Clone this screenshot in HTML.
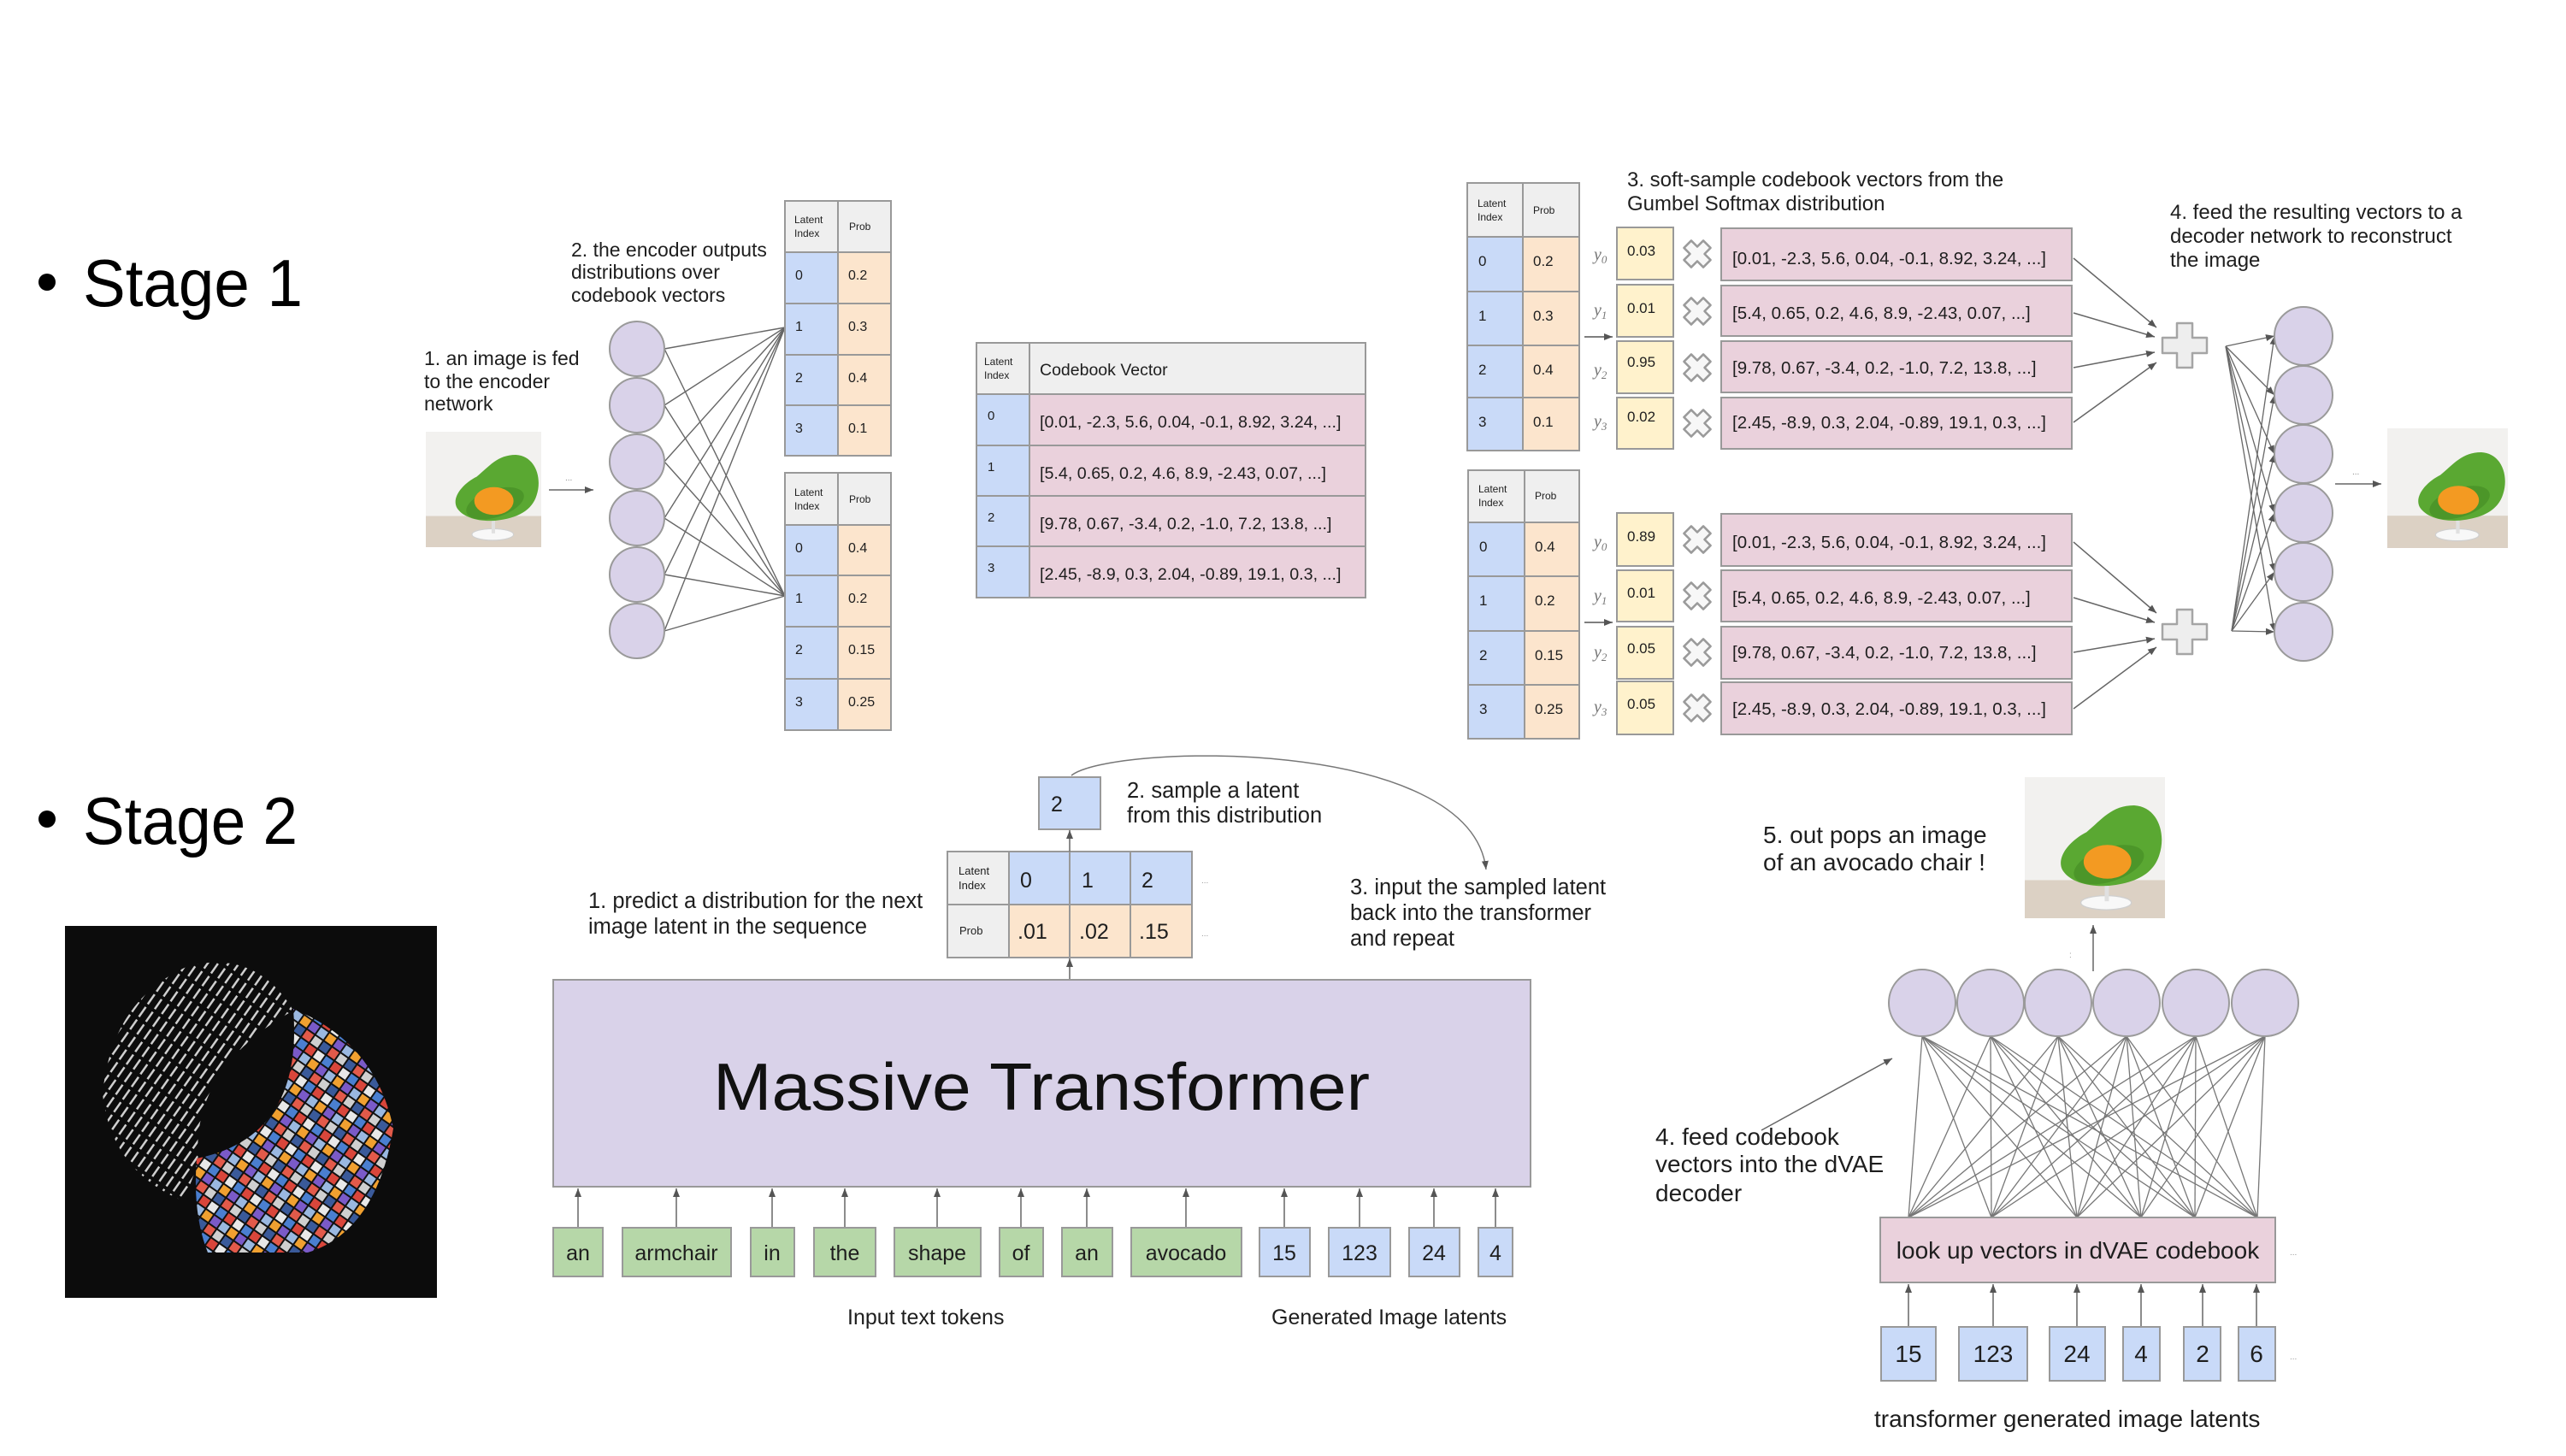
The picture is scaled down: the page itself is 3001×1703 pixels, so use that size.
<!DOCTYPE html>
<html><head><meta charset="utf-8">
<style>
html,body{margin:0;padding:0;background:#fff;}
svg{display:block;}
text{font-family:"Liberation Sans",Arial,sans-serif;fill:#1e1e1e;}
.ser{font-family:"Liberation Serif",serif;font-style:italic;fill:#777;}
</style></head><body>
<svg width="3001" height="1703" viewBox="0 0 3001 1703" xmlns="http://www.w3.org/2000/svg">
<defs>
<marker id="a" viewBox="0 0 10 10" refX="10" refY="5" markerWidth="13" markerHeight="13" markerUnits="userSpaceOnUse" orient="auto"><path d="M0,1 L10,5 L0,9 z" fill="#555"/></marker>
<marker id="s" viewBox="0 0 10 10" refX="10" refY="5" markerWidth="10" markerHeight="10" markerUnits="userSpaceOnUse" orient="auto"><path d="M0,1 L10,5 L0,9 z" fill="#555"/></marker>
<symbol id="chair" viewBox="0 0 100 100" preserveAspectRatio="none">
<rect width="100" height="100" fill="#f2f1ef"/>
<rect y="73" width="100" height="27" fill="#dcd1c4"/>
<ellipse cx="58" cy="89" rx="18" ry="5" fill="#f8f8f8" stroke="#cfcfcf" stroke-width="0.8"/>
<rect x="57" y="74" width="3" height="14" fill="#e0e0e0"/>
<path d="M27,66 C22,57 32,45 44,39 C55,30 62,20 78,20 C95,21 101,40 96,55 C92,68 80,75 60,77 C45,78 32,74 27,66 Z" fill="#5aa832"/>
<ellipse cx="60" cy="62" rx="26" ry="12" transform="rotate(-18 60 62)" fill="#4c9629"/>
<ellipse cx="59" cy="60" rx="17" ry="12" fill="#f39a22"/>
</symbol>
<pattern id="tiles" width="36" height="36" patternUnits="userSpaceOnUse" patternTransform="rotate(35)">
<rect width="36" height="36" fill="#111"/>
<rect x="1" y="1" width="10" height="10" fill="#e8e8e8"/>
<rect x="13" y="1" width="10" height="10" fill="#4a7fd0"/>
<rect x="25" y="1" width="10" height="10" fill="#d9463b"/>
<rect x="1" y="13" width="10" height="10" fill="#f0a030"/>
<rect x="13" y="13" width="10" height="10" fill="#7a5ac8"/>
<rect x="25" y="13" width="10" height="10" fill="#9ab8e0"/>
<rect x="1" y="25" width="10" height="10" fill="#3a5a9a"/>
<rect x="13" y="25" width="10" height="10" fill="#e25a4a"/>
<rect x="25" y="25" width="10" height="10" fill="#cfcfcf"/>
</pattern>
<pattern id="txt" width="18" height="10" patternUnits="userSpaceOnUse" patternTransform="rotate(-55)">
<rect width="18" height="10" fill="#0c0c0c"/>
<rect x="1" y="4" width="14" height="2.5" fill="#cfcfcf"/>
</pattern>
</defs>

<!-- ===== Stage labels ===== -->
<circle cx="55" cy="330" r="10" fill="#000"/>
<text x="97" y="358" font-size="78" textLength="257" lengthAdjust="spacingAndGlyphs" style="fill:#000">Stage 1</text>
<circle cx="55" cy="958" r="10" fill="#000"/>
<text x="97" y="987" font-size="78" textLength="251" lengthAdjust="spacingAndGlyphs" style="fill:#000">Stage 2</text>

<!-- ===== Stage 1 encoder ===== -->
<text font-size="23"><tspan x="496" y="427">1. an image is fed</tspan><tspan x="496" y="454">to the encoder</tspan><tspan x="496" y="480">network</tspan></text>
<text font-size="23"><tspan x="668" y="300">2. the encoder outputs</tspan><tspan x="668" y="326">distributions over</tspan><tspan x="668" y="353">codebook vectors</tspan></text>
<use href="#chair" x="498" y="505" width="135" height="135"/>
<line x1="642" y1="573" x2="694" y2="573" stroke="#666" stroke-width="1.5" marker-end="url(#s)"/>
<text x="661" y="562" font-size="10" style="fill:#888">...</text>

<g stroke="#666" stroke-width="1.4">
<line x1="777" y1="408" x2="918" y2="383"/><line x1="777" y1="408" x2="918" y2="697"/>
<line x1="777" y1="474" x2="918" y2="383"/><line x1="777" y1="474" x2="918" y2="697"/>
<line x1="777" y1="540" x2="918" y2="383"/><line x1="777" y1="540" x2="918" y2="697"/>
<line x1="777" y1="606" x2="918" y2="383"/><line x1="777" y1="606" x2="918" y2="697"/>
<line x1="777" y1="672" x2="918" y2="383"/><line x1="777" y1="672" x2="918" y2="697"/>
<line x1="777" y1="738" x2="918" y2="383"/><line x1="777" y1="738" x2="918" y2="697"/>
</g>
<g fill="#d9d2e9" stroke="#9a9a9a" stroke-width="2">
<circle cx="745" cy="408" r="32"/><circle cx="745" cy="474" r="32"/><circle cx="745" cy="540" r="32"/>
<circle cx="745" cy="606" r="32"/><circle cx="745" cy="672" r="32"/><circle cx="745" cy="738" r="32"/>
</g>

<!-- Table T1 -->
<g stroke="#999" stroke-width="2">
<rect x="918" y="235" width="62" height="60" fill="#efefef"/><rect x="980" y="235" width="62" height="60" fill="#efefef"/>
<rect x="918" y="295" width="62" height="60" fill="#c9daf8"/><rect x="980" y="295" width="62" height="60" fill="#fce5cd"/>
<rect x="918" y="355" width="62" height="60" fill="#c9daf8"/><rect x="980" y="355" width="62" height="60" fill="#fce5cd"/>
<rect x="918" y="415" width="62" height="59" fill="#c9daf8"/><rect x="980" y="415" width="62" height="59" fill="#fce5cd"/>
<rect x="918" y="474" width="62" height="59" fill="#c9daf8"/><rect x="980" y="474" width="62" height="59" fill="#fce5cd"/>
</g>
<text font-size="12"><tspan x="929" y="261">Latent</tspan><tspan x="929" y="277">Index</tspan></text>
<text x="993" y="269" font-size="12">Prob</text>
<g font-size="16">
<text x="930" y="327">0</text><text x="992" y="327">0.2</text>
<text x="930" y="387">1</text><text x="992" y="387">0.3</text>
<text x="930" y="447">2</text><text x="992" y="447">0.4</text>
<text x="930" y="506">3</text><text x="992" y="506">0.1</text>
</g>
<!-- Table T2 -->
<g stroke="#999" stroke-width="2">
<rect x="918" y="553" width="62" height="61" fill="#efefef"/><rect x="980" y="553" width="62" height="61" fill="#efefef"/>
<rect x="918" y="614" width="62" height="59" fill="#c9daf8"/><rect x="980" y="614" width="62" height="59" fill="#fce5cd"/>
<rect x="918" y="673" width="62" height="60" fill="#c9daf8"/><rect x="980" y="673" width="62" height="60" fill="#fce5cd"/>
<rect x="918" y="733" width="62" height="61" fill="#c9daf8"/><rect x="980" y="733" width="62" height="61" fill="#fce5cd"/>
<rect x="918" y="794" width="62" height="60" fill="#c9daf8"/><rect x="980" y="794" width="62" height="60" fill="#fce5cd"/>
</g>
<text font-size="12"><tspan x="929" y="580">Latent</tspan><tspan x="929" y="596">Index</tspan></text>
<text x="993" y="588" font-size="12">Prob</text>
<g font-size="16">
<text x="930" y="646">0</text><text x="992" y="646">0.4</text>
<text x="930" y="705">1</text><text x="992" y="705">0.2</text>
<text x="930" y="765">2</text><text x="992" y="765">0.15</text>
<text x="930" y="826">3</text><text x="992" y="826">0.25</text>
</g>

<!-- Codebook table -->
<g stroke="#999" stroke-width="2">
<rect x="1142" y="401" width="62" height="60" fill="#efefef"/><rect x="1204" y="401" width="393" height="60" fill="#efefef"/>
<rect x="1142" y="461" width="62" height="60" fill="#c9daf8"/><rect x="1204" y="461" width="393" height="60" fill="#ead1dc"/>
<rect x="1142" y="521" width="62" height="59" fill="#c9daf8"/><rect x="1204" y="521" width="393" height="59" fill="#ead1dc"/>
<rect x="1142" y="580" width="62" height="59" fill="#c9daf8"/><rect x="1204" y="580" width="393" height="59" fill="#ead1dc"/>
<rect x="1142" y="639" width="62" height="60" fill="#c9daf8"/><rect x="1204" y="639" width="393" height="60" fill="#ead1dc"/>
</g>
<text font-size="12"><tspan x="1151" y="427">Latent</tspan><tspan x="1151" y="443">Index</tspan></text>
<text x="1216" y="439" font-size="19.5">Codebook Vector</text>
<g font-size="15">
<text x="1155" y="491">0</text><text x="1155" y="551">1</text><text x="1155" y="610">2</text><text x="1155" y="669">3</text>
</g>
<g font-size="19.7">
<text x="1216" y="500">[0.01, -2.3, 5.6, 0.04, -0.1, 8.92, 3.24, ...]</text>
<text x="1216" y="560">[5.4, 0.65, 0.2, 4.6, 8.9, -2.43, 0.07, ...]</text>
<text x="1216" y="619">[9.78, 0.67, -3.4, 0.2, -1.0, 7.2, 13.8, ...]</text>
<text x="1216" y="678">[2.45, -8.9, 0.3, 2.04, -0.89, 19.1, 0.3, ...]</text>
</g>

<!-- Gumbel table A -->
<g stroke="#999" stroke-width="2">
<rect x="1716" y="214" width="65" height="63" fill="#efefef"/><rect x="1781" y="214" width="66" height="63" fill="#efefef"/>
<rect x="1716" y="277" width="65" height="64" fill="#c9daf8"/><rect x="1781" y="277" width="66" height="64" fill="#fce5cd"/>
<rect x="1716" y="341" width="65" height="63" fill="#c9daf8"/><rect x="1781" y="341" width="66" height="63" fill="#fce5cd"/>
<rect x="1716" y="404" width="65" height="61" fill="#c9daf8"/><rect x="1781" y="404" width="66" height="61" fill="#fce5cd"/>
<rect x="1716" y="465" width="65" height="62" fill="#c9daf8"/><rect x="1781" y="465" width="66" height="62" fill="#fce5cd"/>
</g>
<text font-size="12"><tspan x="1728" y="242">Latent</tspan><tspan x="1728" y="258">Index</tspan></text>
<text x="1793" y="250" font-size="12">Prob</text>
<g font-size="17">
<text x="1729" y="311">0</text><text x="1793" y="311">0.2</text>
<text x="1729" y="375">1</text><text x="1793" y="375">0.3</text>
<text x="1729" y="438">2</text><text x="1793" y="438">0.4</text>
<text x="1729" y="499">3</text><text x="1793" y="499">0.1</text>
</g>
<!-- Gumbel table B -->
<g stroke="#999" stroke-width="2">
<rect x="1717" y="550" width="66" height="61" fill="#efefef"/><rect x="1783" y="550" width="64" height="61" fill="#efefef"/>
<rect x="1717" y="611" width="66" height="63" fill="#c9daf8"/><rect x="1783" y="611" width="64" height="63" fill="#fce5cd"/>
<rect x="1717" y="674" width="66" height="64" fill="#c9daf8"/><rect x="1783" y="674" width="64" height="64" fill="#fce5cd"/>
<rect x="1717" y="738" width="66" height="63" fill="#c9daf8"/><rect x="1783" y="738" width="64" height="63" fill="#fce5cd"/>
<rect x="1717" y="801" width="66" height="63" fill="#c9daf8"/><rect x="1783" y="801" width="64" height="63" fill="#fce5cd"/>
</g>
<text font-size="12"><tspan x="1729" y="576">Latent</tspan><tspan x="1729" y="592">Index</tspan></text>
<text x="1795" y="584" font-size="12">Prob</text>
<g font-size="17">
<text x="1730" y="645">0</text><text x="1795" y="645">0.4</text>
<text x="1730" y="708">1</text><text x="1795" y="708">0.2</text>
<text x="1730" y="772">2</text><text x="1795" y="772">0.15</text>
<text x="1730" y="835">3</text><text x="1795" y="835">0.25</text>
</g>

<line x1="1853" y1="394" x2="1886" y2="394" stroke="#555" stroke-width="1.5" marker-end="url(#s)"/>
<line x1="1853" y1="728" x2="1886" y2="728" stroke="#555" stroke-width="1.5" marker-end="url(#s)"/>

<!-- y labels -->
<g font-size="20">
<text class="ser" x="1864" y="304">y<tspan font-size="13" dy="4">0</tspan></text>
<text class="ser" x="1864" y="369">y<tspan font-size="13" dy="4">1</tspan></text>
<text class="ser" x="1864" y="439">y<tspan font-size="13" dy="4">2</tspan></text>
<text class="ser" x="1864" y="499">y<tspan font-size="13" dy="4">3</tspan></text>
<text class="ser" x="1864" y="640">y<tspan font-size="13" dy="4">0</tspan></text>
<text class="ser" x="1864" y="703">y<tspan font-size="13" dy="4">1</tspan></text>
<text class="ser" x="1864" y="769">y<tspan font-size="13" dy="4">2</tspan></text>
<text class="ser" x="1864" y="833">y<tspan font-size="13" dy="4">3</tspan></text>
</g>

<!-- Yellow boxes -->
<g stroke="#999" stroke-width="2" fill="#fff2cc">
<rect x="1891" y="266" width="66" height="61"/><rect x="1891" y="333" width="66" height="61"/>
<rect x="1891" y="399" width="66" height="61"/><rect x="1891" y="465" width="66" height="60"/>
<rect x="1891" y="600" width="66" height="62"/><rect x="1891" y="667" width="66" height="60"/>
<rect x="1891" y="733" width="66" height="61"/><rect x="1891" y="797" width="66" height="62"/>
</g>
<g font-size="17">
<text x="1903" y="299">0.03</text><text x="1903" y="366">0.01</text><text x="1903" y="429">0.95</text><text x="1903" y="493">0.02</text>
<text x="1903" y="633">0.89</text><text x="1903" y="699">0.01</text><text x="1903" y="764">0.05</text><text x="1903" y="829">0.05</text>
</g>

<!-- multiply icons -->
<g fill="#f7f7f7" stroke="#9a9a9a" stroke-width="2.5" stroke-linejoin="round">
<polygon transform="translate(1985 297) rotate(45)" points="-6,-16 6,-16 6,-6 16,-6 16,6 6,6 6,16 -6,16 -6,6 -16,6 -16,-6 -6,-6"/>
<polygon transform="translate(1985 364) rotate(45)" points="-6,-16 6,-16 6,-6 16,-6 16,6 6,6 6,16 -6,16 -6,6 -16,6 -16,-6 -6,-6"/>
<polygon transform="translate(1985 430) rotate(45)" points="-6,-16 6,-16 6,-6 16,-6 16,6 6,6 6,16 -6,16 -6,6 -16,6 -16,-6 -6,-6"/>
<polygon transform="translate(1985 495) rotate(45)" points="-6,-16 6,-16 6,-6 16,-6 16,6 6,6 6,16 -6,16 -6,6 -16,6 -16,-6 -6,-6"/>
<polygon transform="translate(1985 631) rotate(45)" points="-6,-16 6,-16 6,-6 16,-6 16,6 6,6 6,16 -6,16 -6,6 -16,6 -16,-6 -6,-6"/>
<polygon transform="translate(1985 697) rotate(45)" points="-6,-16 6,-16 6,-6 16,-6 16,6 6,6 6,16 -6,16 -6,6 -16,6 -16,-6 -6,-6"/>
<polygon transform="translate(1985 763) rotate(45)" points="-6,-16 6,-16 6,-6 16,-6 16,6 6,6 6,16 -6,16 -6,6 -16,6 -16,-6 -6,-6"/>
<polygon transform="translate(1985 828) rotate(45)" points="-6,-16 6,-16 6,-6 16,-6 16,6 6,6 6,16 -6,16 -6,6 -16,6 -16,-6 -6,-6"/>
</g>

<!-- Pink vector boxes -->
<g stroke="#999" stroke-width="2" fill="#ead1dc">
<rect x="2013" y="267" width="410" height="61"/><rect x="2013" y="334" width="410" height="59"/>
<rect x="2013" y="399" width="410" height="60"/><rect x="2013" y="465" width="410" height="60"/>
<rect x="2013" y="601" width="410" height="61"/><rect x="2013" y="667" width="410" height="60"/>
<rect x="2013" y="733" width="410" height="61"/><rect x="2013" y="798" width="410" height="61"/>
</g>
<g font-size="20.5">
<text x="2026" y="309">[0.01, -2.3, 5.6, 0.04, -0.1, 8.92, 3.24, ...]</text>
<text x="2026" y="373">[5.4, 0.65, 0.2, 4.6, 8.9, -2.43, 0.07, ...]</text>
<text x="2026" y="437">[9.78, 0.67, -3.4, 0.2, -1.0, 7.2, 13.8, ...]</text>
<text x="2026" y="501">[2.45, -8.9, 0.3, 2.04, -0.89, 19.1, 0.3, ...]</text>
<text x="2026" y="641">[0.01, -2.3, 5.6, 0.04, -0.1, 8.92, 3.24, ...]</text>
<text x="2026" y="706">[5.4, 0.65, 0.2, 4.6, 8.9, -2.43, 0.07, ...]</text>
<text x="2026" y="770">[9.78, 0.67, -3.4, 0.2, -1.0, 7.2, 13.8, ...]</text>
<text x="2026" y="836">[2.45, -8.9, 0.3, 2.04, -0.89, 19.1, 0.3, ...]</text>
</g>
<text font-size="24"><tspan x="1903" y="218">3. soft-sample codebook vectors from the</tspan><tspan x="1903" y="246">Gumbel Softmax distribution</tspan></text>

<!-- arrows into plus -->
<g stroke="#666" stroke-width="1.5" marker-end="url(#s)">
<line x1="2425" y1="302" x2="2522" y2="383"/>
<line x1="2425" y1="366" x2="2520" y2="394"/>
<line x1="2425" y1="430" x2="2520" y2="412"/>
<line x1="2425" y1="494" x2="2522" y2="424"/>
<line x1="2425" y1="634" x2="2522" y2="717"/>
<line x1="2425" y1="699" x2="2520" y2="728"/>
<line x1="2425" y1="763" x2="2520" y2="747"/>
<line x1="2425" y1="829" x2="2522" y2="757"/>
</g>
<g fill="#eeeeee" stroke="#a5a5a5" stroke-width="2.5" stroke-linejoin="round">
<polygon transform="translate(2555 404)" points="-9,-26 9,-26 9,-9 26,-9 26,9 9,9 9,26 -9,26 -9,9 -26,9 -26,-9 -9,-9"/>
<polygon transform="translate(2555 739)" points="-9,-26 9,-26 9,-9 26,-9 26,9 9,9 9,26 -9,26 -9,9 -26,9 -26,-9 -9,-9"/>
</g>

<!-- decoder fan stage 1 -->
<g stroke="#666" stroke-width="1.3" marker-end="url(#s)">
<line x1="2603" y1="405" x2="2660" y2="393"/><line x1="2603" y1="405" x2="2660" y2="462"/>
<line x1="2603" y1="405" x2="2660" y2="531"/><line x1="2603" y1="405" x2="2660" y2="600"/>
<line x1="2603" y1="405" x2="2660" y2="669"/><line x1="2603" y1="405" x2="2660" y2="739"/>
<line x1="2610" y1="738" x2="2660" y2="393"/><line x1="2610" y1="738" x2="2660" y2="462"/>
<line x1="2610" y1="738" x2="2660" y2="531"/><line x1="2610" y1="738" x2="2660" y2="600"/>
<line x1="2610" y1="738" x2="2660" y2="669"/><line x1="2610" y1="738" x2="2660" y2="739"/>
</g>
<g fill="#d9d2e9" stroke="#9a9a9a" stroke-width="2">
<circle cx="2694" cy="393" r="34"/><circle cx="2694" cy="462" r="34"/><circle cx="2694" cy="531" r="34"/>
<circle cx="2694" cy="600" r="34"/><circle cx="2694" cy="669" r="34"/><circle cx="2694" cy="739" r="34"/>
</g>
<text font-size="24"><tspan x="2538" y="256">4. feed the resulting vectors to a</tspan><tspan x="2538" y="284">decoder network to reconstruct</tspan><tspan x="2538" y="312">the image</tspan></text>
<line x1="2731" y1="566" x2="2785" y2="566" stroke="#666" stroke-width="1.5" marker-end="url(#s)"/>
<text x="2751" y="555" font-size="10" style="fill:#888">...</text>
<use href="#chair" x="2792" y="501" width="141" height="140"/>

<!-- ===== Stage 2 ===== -->
<rect x="76" y="1083" width="435" height="435" fill="#0c0c0c"/>
<path d="M343,1182 Q300,1110 220,1130 Q130,1170 120,1280 Q130,1370 215,1405 L232,1360 Q222,1250 343,1182 Z" fill="url(#txt)"/>
<path d="M343,1180 Q440,1220 460,1320 Q440,1440 360,1465 L243,1465 Q225,1420 230,1355 Q355,1330 343,1180 Z" fill="url(#tiles)"/>

<text font-size="25.5"><tspan x="688" y="1062">1. predict a distribution for the next</tspan><tspan x="688" y="1092">image latent in the sequence</tspan></text>
<text font-size="25.5"><tspan x="1318" y="933">2. sample a latent</tspan><tspan x="1318" y="962">from this distribution</tspan></text>
<text font-size="25.5"><tspan x="1579" y="1046">3. input the sampled latent</tspan><tspan x="1579" y="1076">back into the transformer</tspan><tspan x="1579" y="1106">and repeat</tspan></text>

<path d="M1253 907 C1300 870 1720 860 1738 1017" fill="none" stroke="#777" stroke-width="1.5" marker-end="url(#s)"/>

<rect x="1215" y="909" width="72" height="61" fill="#c9daf8" stroke="#999" stroke-width="2"/>
<text x="1229" y="949" font-size="25">2</text>

<!-- distribution table -->
<g stroke="#999" stroke-width="2">
<rect x="1108" y="996" width="72" height="62" fill="#efefef"/>
<rect x="1180" y="996" width="71" height="62" fill="#c9daf8"/>
<rect x="1251" y="996" width="71" height="62" fill="#c9daf8"/>
<rect x="1322" y="996" width="72" height="62" fill="#c9daf8"/>
<rect x="1108" y="1058" width="72" height="62" fill="#efefef"/>
<rect x="1180" y="1058" width="71" height="62" fill="#fce5cd"/>
<rect x="1251" y="1058" width="71" height="62" fill="#fce5cd"/>
<rect x="1322" y="1058" width="72" height="62" fill="#fce5cd"/>
</g>
<text font-size="13"><tspan x="1121" y="1023">Latent</tspan><tspan x="1121" y="1040">Index</tspan></text>
<text x="1122" y="1093" font-size="13">Prob</text>
<g font-size="25">
<text x="1193" y="1038">0</text><text x="1265" y="1038">1</text><text x="1335" y="1038">2</text>
<text x="1190" y="1098">.01</text><text x="1262" y="1098">.02</text><text x="1332" y="1098">.15</text>
</g>
<text x="1405" y="1033" font-size="10" style="fill:#999">...</text>
<text x="1405" y="1095" font-size="10" style="fill:#999">...</text>

<line x1="1251" y1="1146" x2="1251" y2="1121" stroke="#666" stroke-width="1.5" marker-end="url(#s)"/>
<line x1="1251" y1="996" x2="1251" y2="971" stroke="#666" stroke-width="1.5" marker-end="url(#s)"/>

<!-- transformer -->
<rect x="647" y="1146" width="1143" height="242" fill="#d9d2e9" stroke="#999" stroke-width="2"/>
<text x="834" y="1298" font-size="78" textLength="768" lengthAdjust="spacingAndGlyphs" style="fill:#111">Massive Transformer</text>

<!-- token arrows -->
<g stroke="#666" stroke-width="1.5" marker-end="url(#s)">
<line x1="676" y1="1436" x2="676" y2="1390"/><line x1="791" y1="1436" x2="791" y2="1390"/>
<line x1="903" y1="1436" x2="903" y2="1390"/><line x1="988" y1="1436" x2="988" y2="1390"/>
<line x1="1096" y1="1436" x2="1096" y2="1390"/><line x1="1194" y1="1436" x2="1194" y2="1390"/>
<line x1="1271" y1="1436" x2="1271" y2="1390"/><line x1="1387" y1="1436" x2="1387" y2="1390"/>
<line x1="1502" y1="1436" x2="1502" y2="1390"/><line x1="1590" y1="1436" x2="1590" y2="1390"/>
<line x1="1677" y1="1436" x2="1677" y2="1390"/><line x1="1749" y1="1436" x2="1749" y2="1390"/>
</g>
<g stroke="#999" stroke-width="2" fill="#b6d7a8">
<rect x="647" y="1436" width="58" height="57"/><rect x="728" y="1436" width="127" height="57"/>
<rect x="878" y="1436" width="51" height="57"/><rect x="952" y="1436" width="72" height="57"/>
<rect x="1046" y="1436" width="101" height="57"/><rect x="1169" y="1436" width="51" height="57"/>
<rect x="1242" y="1436" width="59" height="57"/><rect x="1323" y="1436" width="129" height="57"/>
</g>
<g stroke="#999" stroke-width="2" fill="#c9daf8">
<rect x="1473" y="1436" width="59" height="57"/><rect x="1554" y="1436" width="72" height="57"/>
<rect x="1648" y="1436" width="59" height="57"/><rect x="1729" y="1436" width="40" height="57"/>
</g>
<g font-size="25" text-anchor="middle">
<text x="676" y="1474">an</text><text x="791" y="1474">armchair</text><text x="903" y="1474">in</text>
<text x="988" y="1474">the</text><text x="1096" y="1474">shape</text><text x="1194" y="1474">of</text>
<text x="1271" y="1474">an</text><text x="1387" y="1474">avocado</text>
<text x="1502" y="1474">15</text><text x="1590" y="1474">123</text><text x="1677" y="1474">24</text><text x="1749" y="1474">4</text>
</g>
<text x="991" y="1549" font-size="25">Input text tokens</text>
<text x="1487" y="1549" font-size="25">Generated Image latents</text>

<!-- Right stage 2 -->
<text font-size="28"><tspan x="2062" y="986">5. out pops an image</tspan><tspan x="2062" y="1018">of an avocado chair !</tspan></text>
<use href="#chair" x="2368" y="909" width="164" height="165"/>
<line x1="2448" y1="1136" x2="2448" y2="1082" stroke="#666" stroke-width="1.5" marker-end="url(#s)"/>
<text x="2420" y="1120" font-size="10" style="fill:#999">:</text>

<text font-size="28"><tspan x="1936" y="1339">4. feed codebook</tspan><tspan x="1936" y="1371">vectors into the dVAE</tspan><tspan x="1936" y="1405">decoder</tspan></text>
<line x1="2060" y1="1322" x2="2213" y2="1238" stroke="#666" stroke-width="1.5" marker-end="url(#s)"/>

<g stroke="#777" stroke-width="1.3">
<line x1="2248" y1="1212" x2="2232" y2="1424"/><line x1="2248" y1="1212" x2="2329" y2="1424"/><line x1="2248" y1="1212" x2="2429" y2="1424"/><line x1="2248" y1="1212" x2="2504" y2="1424"/><line x1="2248" y1="1212" x2="2567" y2="1424"/><line x1="2248" y1="1212" x2="2640" y2="1424"/>
<line x1="2328" y1="1212" x2="2232" y2="1424"/><line x1="2328" y1="1212" x2="2329" y2="1424"/><line x1="2328" y1="1212" x2="2429" y2="1424"/><line x1="2328" y1="1212" x2="2504" y2="1424"/><line x1="2328" y1="1212" x2="2567" y2="1424"/><line x1="2328" y1="1212" x2="2640" y2="1424"/>
<line x1="2407" y1="1212" x2="2232" y2="1424"/><line x1="2407" y1="1212" x2="2329" y2="1424"/><line x1="2407" y1="1212" x2="2429" y2="1424"/><line x1="2407" y1="1212" x2="2504" y2="1424"/><line x1="2407" y1="1212" x2="2567" y2="1424"/><line x1="2407" y1="1212" x2="2640" y2="1424"/>
<line x1="2487" y1="1212" x2="2232" y2="1424"/><line x1="2487" y1="1212" x2="2329" y2="1424"/><line x1="2487" y1="1212" x2="2429" y2="1424"/><line x1="2487" y1="1212" x2="2504" y2="1424"/><line x1="2487" y1="1212" x2="2567" y2="1424"/><line x1="2487" y1="1212" x2="2640" y2="1424"/>
<line x1="2568" y1="1212" x2="2232" y2="1424"/><line x1="2568" y1="1212" x2="2329" y2="1424"/><line x1="2568" y1="1212" x2="2429" y2="1424"/><line x1="2568" y1="1212" x2="2504" y2="1424"/><line x1="2568" y1="1212" x2="2567" y2="1424"/><line x1="2568" y1="1212" x2="2640" y2="1424"/>
<line x1="2649" y1="1212" x2="2232" y2="1424"/><line x1="2649" y1="1212" x2="2329" y2="1424"/><line x1="2649" y1="1212" x2="2429" y2="1424"/><line x1="2649" y1="1212" x2="2504" y2="1424"/><line x1="2649" y1="1212" x2="2567" y2="1424"/><line x1="2649" y1="1212" x2="2640" y2="1424"/>
</g>
<g fill="#d9d2e9" stroke="#9a9a9a" stroke-width="2">
<circle cx="2248" cy="1173" r="39"/><circle cx="2328" cy="1173" r="39"/><circle cx="2407" cy="1173" r="39"/>
<circle cx="2487" cy="1173" r="39"/><circle cx="2568" cy="1173" r="39"/><circle cx="2649" cy="1173" r="39"/>
</g>

<rect x="2199" y="1424" width="462" height="76" fill="#ead1dc" stroke="#999" stroke-width="2"/>
<text x="2430" y="1472" font-size="28" text-anchor="middle">look up vectors in dVAE codebook</text>
<text x="2678" y="1468" font-size="10" style="fill:#999">...</text>

<g stroke="#666" stroke-width="1.5" marker-end="url(#s)">
<line x1="2232" y1="1552" x2="2232" y2="1502"/><line x1="2331" y1="1552" x2="2331" y2="1502"/>
<line x1="2429" y1="1552" x2="2429" y2="1502"/><line x1="2504" y1="1552" x2="2504" y2="1502"/>
<line x1="2576" y1="1552" x2="2576" y2="1502"/><line x1="2639" y1="1552" x2="2639" y2="1502"/>
</g>
<g stroke="#999" stroke-width="2" fill="#c9daf8">
<rect x="2200" y="1552" width="64" height="63"/><rect x="2291" y="1552" width="80" height="63"/>
<rect x="2397" y="1552" width="65" height="63"/><rect x="2483" y="1552" width="43" height="63"/>
<rect x="2554" y="1552" width="43" height="63"/><rect x="2618" y="1552" width="43" height="63"/>
</g>
<g font-size="28" text-anchor="middle">
<text x="2232" y="1593">15</text><text x="2331" y="1593">123</text><text x="2429" y="1593">24</text>
<text x="2504" y="1593">4</text><text x="2576" y="1593">2</text><text x="2639" y="1593">6</text>
</g>
<text x="2678" y="1590" font-size="10" style="fill:#999">...</text>
<text x="2192" y="1669" font-size="28">transformer generated image latents</text>
</svg>
</body></html>
